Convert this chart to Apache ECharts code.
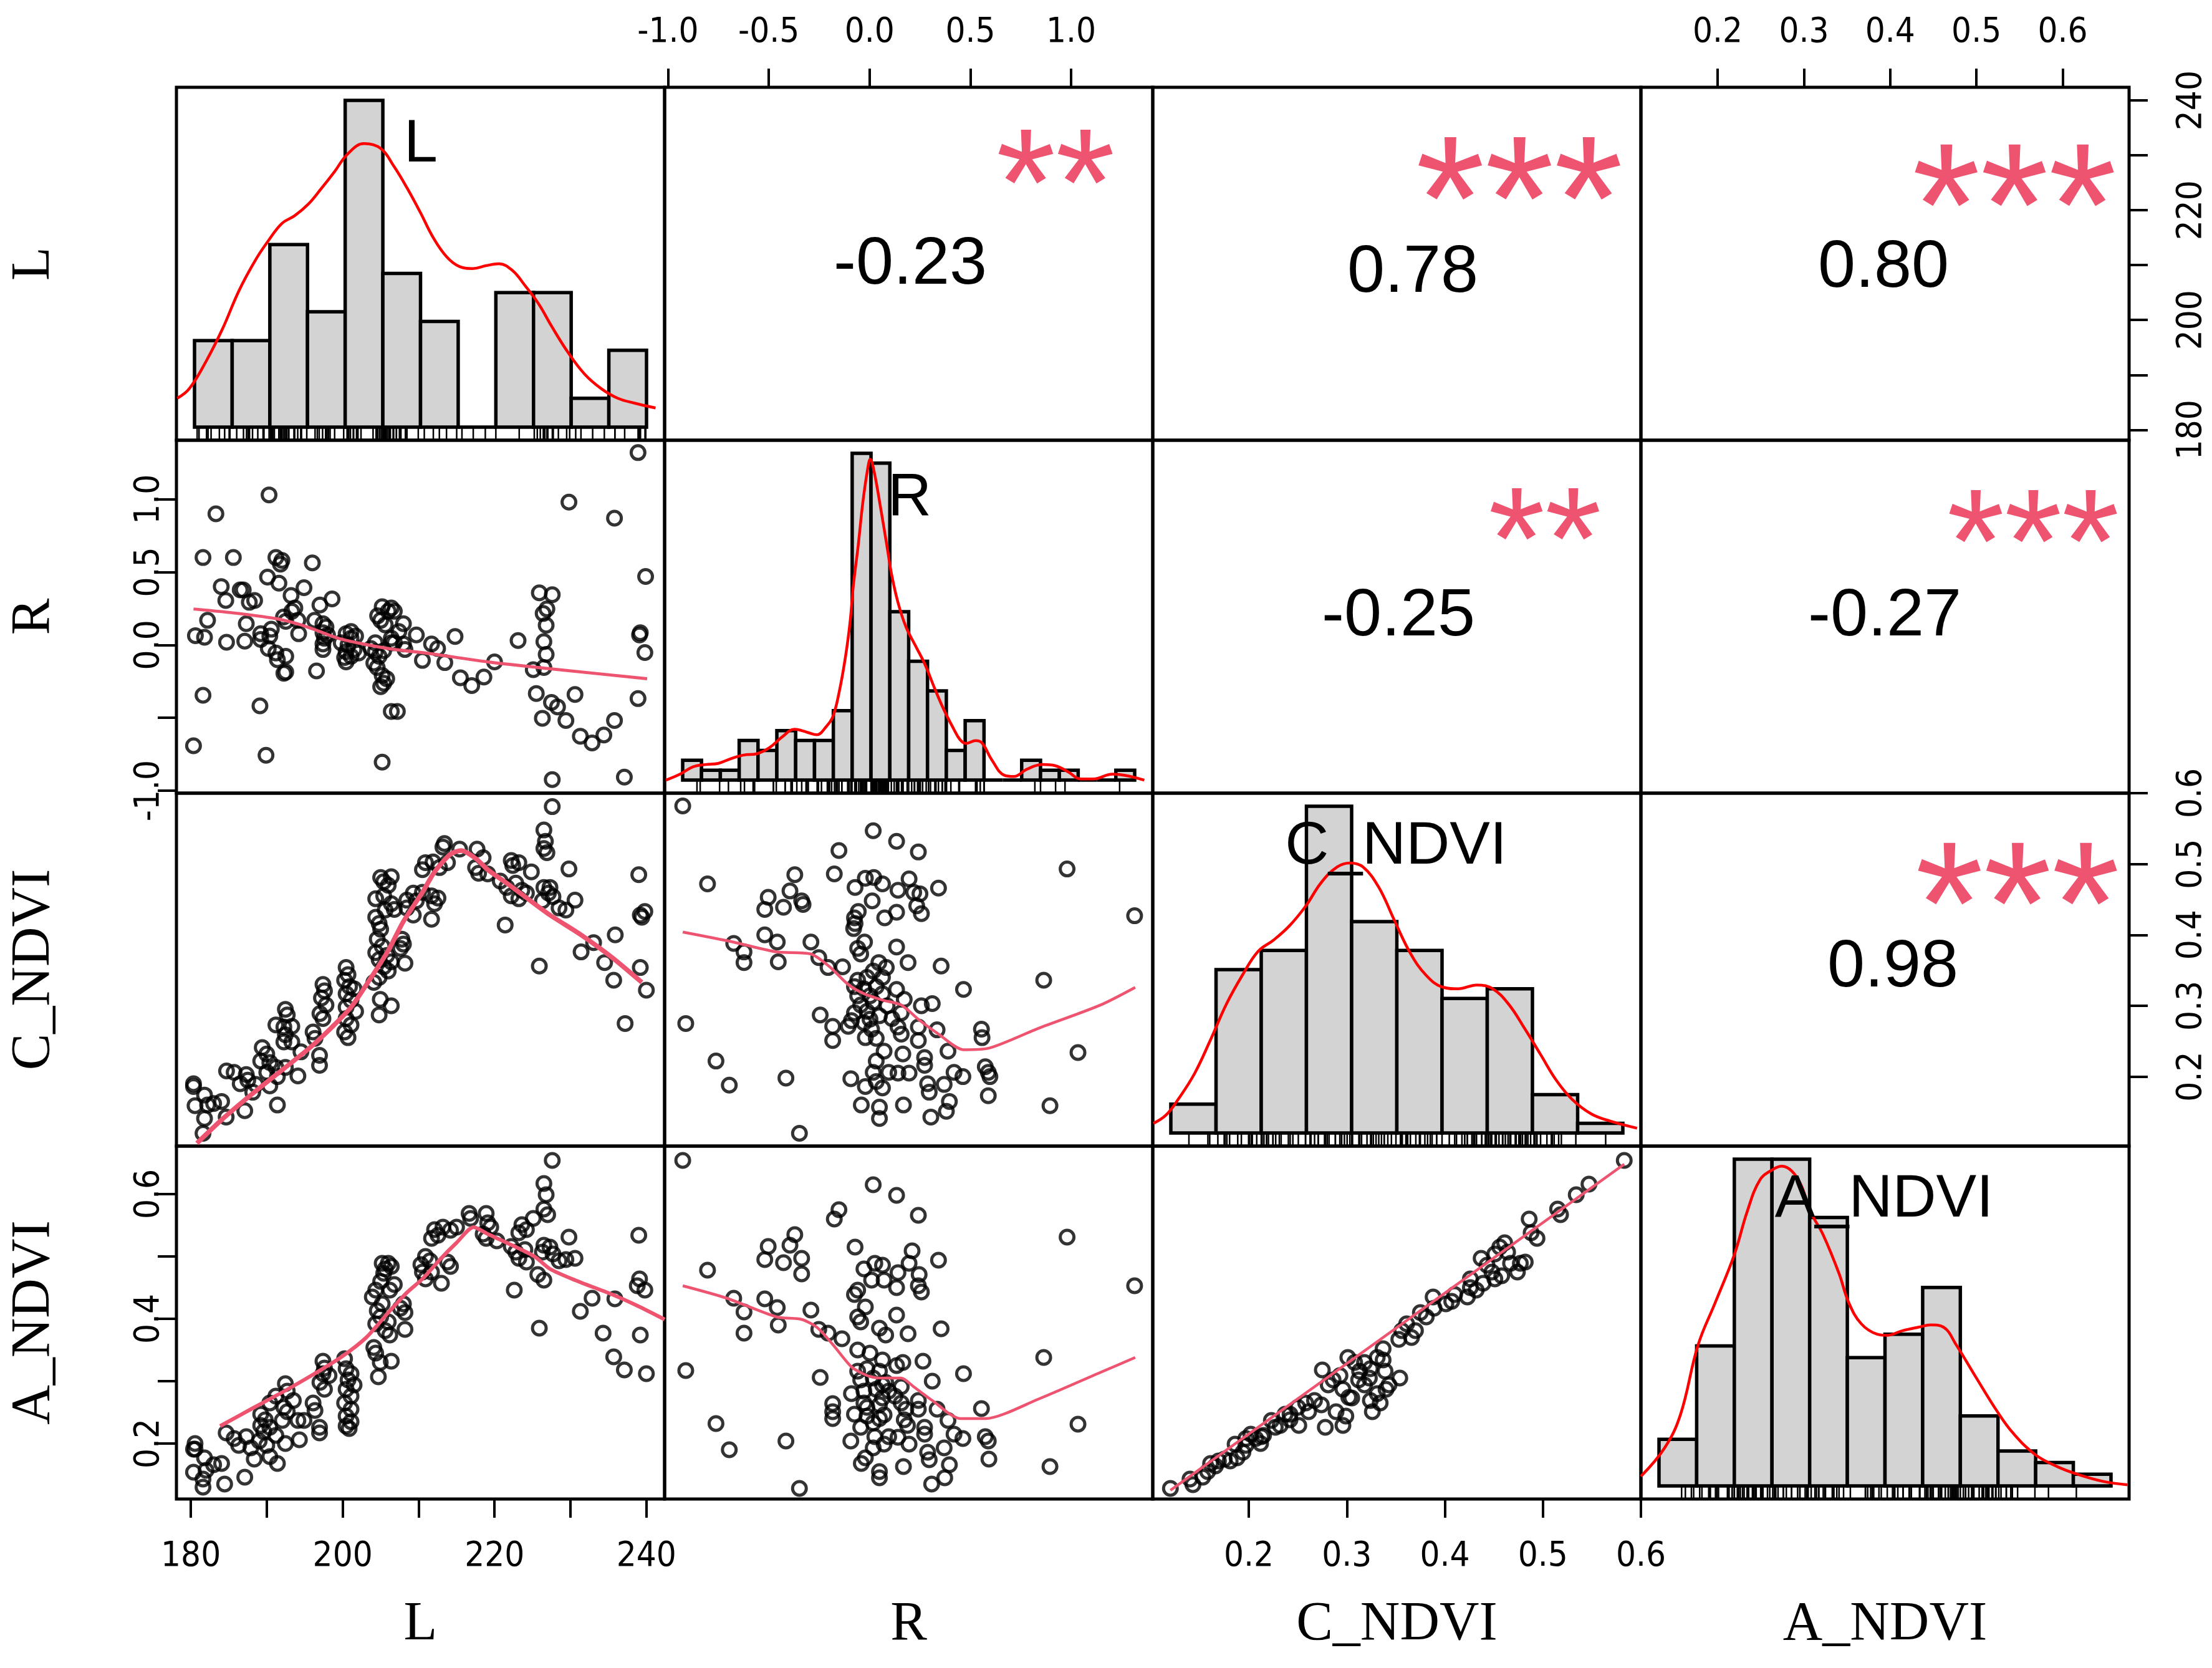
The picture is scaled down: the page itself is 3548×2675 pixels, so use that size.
<!DOCTYPE html>
<html><head><meta charset="utf-8">
<script src="https://cdn.jsdelivr.net/npm/echarts@6/dist/echarts.min.js"></script>
<style>html,body{margin:0;padding:0;background:#fff}#c{width:3548px;height:2675px}</style>
</head><body><div id="c"></div>
<script>
// ---------- DATA ----------
const varNames = ['L', 'R', 'C_NDVI', 'A_NDVI'];
const corrText = ['-0.23', '0.78', '0.80', '-0.25', '-0.27', '0.98'];
const starText = ['**', '***', '***', '**', '***', '***'];
const ticksL = [180, 190, 200, 210, 220, 230, 240];
const labelsL = [180, 200, 220, 240];
const ticksR = [-1, -0.5, 0, 0.5, 1];
const labelsRtop = [-1, -0.5, 0, 0.5, 1];
const labelsRleft = [-1, 0, 0.5, 1];
const ticksNDVI = [0.2, 0.3, 0.4, 0.5, 0.6];
const labelsAleft = [0.2, 0.4, 0.6];

// histogram bins (start, width, counts)
const histLStart = 180, histLWidth = 5;
const histLCounts = [9, 9, 19, 12, 34, 16, 11, 0, 14, 14, 3, 8];
const histRStart = -1.0, histRWidth = 0.1;
const histRCounts = [2, 1, 1, 4, 3, 5, 4, 4, 7, 33, 32, 17, 12, 9, 3, 6, 0, 0, 2, 1, 1, 0, 0, 1];
const histCStart = 0.1, histCWidth = 0.05;
const histCCounts = [3, 17, 19, 34, 22, 19, 14, 15, 4, 1];
const histAStart = 0.1, histAWidth = 0.05;
const histACounts = [4, 12, 28, 28, 23, 11, 13, 17, 6, 3, 2, 1];

// density curves (value, height in count units)
const densL = [[177.7,3.0],[179.3,4.0],[181.5,6.8],[183.7,10.2],[185.9,14.2],[188.1,17.4],[189.8,19.4],[191.6,21.2],[193.3,22.0],[195.1,23.2],[196.8,24.8],[198.6,26.6],[200.3,28.4],[202.5,29.5],[204.7,29.0],[206.5,27.1],[208.2,24.9],[210.0,22.3],[211.7,19.7],[213.5,17.7],[215.2,16.7],[216.9,16.5],[218.7,16.8],[220.4,17.0],[222.2,16.3],[223.9,14.7],[225.7,12.8],[227.4,10.5],[229.6,7.75],[231.8,5.5],[234.0,4.0],[236.2,3.0],[238.4,2.5],[241.2,2.0]];
const densR = [[-1.089,0],[-1.014,0.6],[-0.946,1.33],[-0.878,1.57],[-0.811,1.69],[-0.743,2.17],[-0.676,2.53],[-0.608,2.65],[-0.541,3.25],[-0.473,4.34],[-0.406,5.13],[-0.338,4.82],[-0.288,4.58],[-0.237,5.42],[-0.203,6.39],[-0.170,8.8],[-0.136,12.4],[-0.111,16.0],[-0.094,19.6],[-0.068,23.7],[-0.043,28.1],[-0.018,31.4],[-0.004,32.4],[0.016,31.2],[0.050,27.6],[0.084,23.7],[0.109,20.8],[0.143,17.95],[0.185,15.5],[0.235,13.6],[0.286,11.7],[0.337,9.3],[0.387,7.1],[0.438,5.2],[0.472,4.1],[0.505,3.7],[0.556,3.98],[0.590,3.73],[0.641,2.05],[0.708,0.48],[0.759,0.36],[0.826,1.08],[0.911,1.57],[0.978,1.45],[1.046,0.84],[1.113,0.12],[1.181,0.12],[1.282,0.6],[1.349,0.48],[1.451,0]];
const densC = [[0.0807,1.0],[0.0947,1.87],[0.1088,3.6],[0.1263,6.2],[0.1439,9.7],[0.1614,13.4],[0.179,16.4],[0.1965,18.9],[0.214,20.1],[0.2316,21.6],[0.2491,23.6],[0.2667,26.1],[0.2842,27.7],[0.2982,28.1],[0.3123,27.7],[0.3298,25.6],[0.3474,22.1],[0.365,18.7],[0.3825,16.4],[0.4,15.2],[0.4175,15.0],[0.4386,15.4],[0.4561,15.0],[0.4737,13.4],[0.4912,10.9],[0.5088,8.2],[0.5263,5.5],[0.5439,3.5],[0.5649,2.0],[0.586,1.24],[0.6158,0.5]];
const densA = [[0.076,0.82],[0.1076,3.27],[0.1286,6.13],[0.1518,12.07],[0.1749,15.75],[0.2001,19.84],[0.217,23.5],[0.2338,26.2],[0.2506,27.1],[0.2633,27.4],[0.2759,27.0],[0.2885,25.8],[0.3011,23.5],[0.318,21.5],[0.339,18.2],[0.3516,15.75],[0.3684,13.9],[0.3895,13.0],[0.4021,12.9],[0.4231,13.3],[0.4442,13.6],[0.461,13.8],[0.4778,13.6],[0.4947,12.07],[0.5199,9.4],[0.5494,6.34],[0.5704,4.5],[0.5999,2.66],[0.6293,1.64],[0.6546,1.02],[0.6882,0.41],[0.7219,0.1]];

// scatter panels
const ptsLR = [[238.9,1.32],[190.3,1.03],[183.3,0.90],[229.8,0.98],[235.8,0.87],[181.6,0.60],[185.6,0.60],[191.2,0.60],[192.0,0.58],[191.8,0.555],
[196.0,0.563],[239.9,0.47],[190.1,0.466],[191.6,0.424],[184.0,0.401],[186.5,0.378],[186.9,0.378],[194.9,0.393],[184.6,0.305],[187.7,0.293],
[188.4,0.305],[193.2,0.339],[198.6,0.316],[197.0,0.274],[225.9,0.358],[227.6,0.345],[193.7,0.254],[193.3,0.231],[192.2,0.192],[194.1,0.169],
[192.5,0.162],[182.2,0.169],[187.3,0.146],[196.3,0.169],[197.4,0.146],[197.8,0.123],[197.4,0.084],[197.6,0.046],[197.4,0.007],[197.4,-0.031],
[205.2,0.262],[206.4,0.254],[206.0,0.231],[204.6,0.200],[205.0,0.169],[205.6,0.138],[208.0,0.146],[226.4,0.216],[226.9,0.247],[226.8,0.135],
[190.6,0.108],[189.2,0.077],[190.4,0.061],[180.6,0.064],[181.8,0.053],[184.7,0.019],[187.1,0.026],[189.2,0.038],[194.2,0.077],[200.45,0.077],
[201.1,0.046],[200.7,0.0],[200.45,-0.047],[201.1,-0.078],[200.45,-0.116],[201.7,0.061],[199.8,0.015],[201.5,-0.031],[204.3,0.015],[206.4,0.046],
[206.8,0.015],[208.0,0.007],[208.2,-0.031],[209.7,0.069],[204.3,-0.047],[204.8,-0.078],[204.1,-0.124],[204.55,-0.155],[211.7,0.007],[212.5,-0.024],
[214.8,0.058],[223.1,0.030],[226.5,0.023],[226.8,-0.065],[226.5,-0.155],[225.1,-0.17],[210.5,-0.106],[213.45,-0.121],[220.0,-0.116],[239.2,0.084],
[239.1,0.069],[239.8,-0.052],[190.2,-0.024],[191.2,-0.055],[192.5,-0.078],[191.4,-0.101],[192.5,-0.186],[192.25,-0.194],[196.55,-0.178],[205.2,-0.209],
[205.8,-0.232],[205.4,-0.263],[205.0,-0.286],[215.5,-0.225],[217.0,-0.279],[218.6,-0.22],[181.6,-0.345],[189.1,-0.418],[206.4,-0.456],[207.2,-0.456],
[225.5,-0.333],[227.5,-0.394],[228.3,-0.425],[230.6,-0.340],[226.3,-0.503],[229.4,-0.518],[235.8,-0.518],[238.9,-0.368],[231.3,-0.626],[232.85,-0.672],
[234.4,-0.618],[180.35,-0.692],[189.9,-0.757],[205.2,-0.804],[227.6,-0.924],[237.1,-0.907],[201.1,0.092],[200.25,-0.086],[202.1,-0.055],[203.7,-0.024],
[205.4,-0.039],[198.0,0.069],[206.8,0.231],[207.4,0.092],[206.4,0.015]];
const loessLR = [[180.35,0.247],[186.3,0.216],[191.6,0.177],[194.5,0.138],[196.55,0.10],[199.4,0.046],[202.7,0.007],[206.8,-0.031],[210.9,-0.055],[219.1,-0.116],[227.3,-0.163],[240.1,-0.232]];

const ptsLC = [[227.6,0.581],[226.5,0.548],[226.7,0.532],[226.5,0.522],[226.9,0.516],[213.4,0.529],[213.2,0.524],[215.4,0.521],[217.7,0.521],[218.5,0.509],
[210.9,0.502],[211.9,0.503],[212.75,0.495],[213.8,0.502],[210.5,0.492],[217.5,0.495],[217.9,0.487],[219.1,0.486],[222.2,0.505],[222.4,0.498],
[223.2,0.502],[224.85,0.489],[229.8,0.493],[239.0,0.485],[205.0,0.481],[206.4,0.482],[205.4,0.475],[206.0,0.470],[220.75,0.476],[221.6,0.467],
[222.8,0.473],[223.6,0.463],[222.2,0.455],[223.2,0.451],[224.2,0.459],[226.5,0.467],[227.3,0.467],[227.1,0.459],[227.7,0.454],[226.3,0.448],
[204.35,0.451],[205.4,0.455],[206.4,0.444],[205.6,0.435],[206.8,0.436],[209.3,0.459],[208.45,0.449],[209.7,0.448],[210.5,0.460],[212.55,0.452],
[212.1,0.444],[211.7,0.455],[208.45,0.438],[209.3,0.428],[211.7,0.422],[228.5,0.438],[229.4,0.435],[230.6,0.449],[221.4,0.414],[239.2,0.428],
[239.8,0.433],[239.4,0.425],[204.35,0.425],[204.8,0.416],[205.0,0.408],[207.8,0.394],[208.0,0.387],[207.6,0.381],[204.55,0.394],[205.2,0.384],
[204.35,0.375],[204.8,0.365],[205.8,0.371],[206.4,0.362],[208.2,0.360],[205.4,0.355],[206.0,0.349],[204.8,0.340],[204.1,0.333],[225.9,0.356],
[233.05,0.389],[231.4,0.376],[235.9,0.400],[234.5,0.361],[239.2,0.354],[235.7,0.336],[240.0,0.322],[237.2,0.275],[200.45,0.354],[200.7,0.344],
[200.25,0.336],[200.9,0.327],[200.45,0.317],[201.5,0.324],[201.1,0.308],[200.45,0.298],[201.7,0.292],[200.45,0.282],[201.1,0.273],[200.25,0.263],
[200.7,0.255],[197.4,0.330],[197.6,0.321],[197.2,0.311],[197.8,0.301],[197.0,0.289],[197.4,0.282],[204.95,0.309],[206.4,0.300],[204.8,0.287],
[192.45,0.295],[192.7,0.287],[191.2,0.273],[192.25,0.270],[193.3,0.271],[192.45,0.259],[192.25,0.249],[193.3,0.249],[196.1,0.263],[196.35,0.254],
[196.95,0.230],[196.95,0.216],[194.5,0.235],[189.4,0.241],[190.0,0.232],[189.2,0.222],[190.4,0.220],[191.2,0.213],[192.45,0.213],[190.0,0.206],
[191.4,0.200],[194.1,0.201],[184.7,0.208],[185.7,0.206],[187.3,0.203],[186.5,0.190],[187.5,0.195],[188.55,0.189],[188.15,0.178],[190.4,0.187],
[180.35,0.190],[180.35,0.186],[181.8,0.174],[180.55,0.159],[182.2,0.160],[183.0,0.162],[184.05,0.165],[181.8,0.141],[184.65,0.143],[187.1,0.152],
[191.4,0.160],[181.6,0.120]];
const loessLC = [[180.8,0.106],[184.25,0.141],[188.35,0.178],[192.45,0.213],[195.7,0.241],[198.6,0.270],[201.1,0.298],[203.5,0.336],[206.0,0.378],[208.0,0.419],[210.5,0.460],[212.1,0.489],[214.2,0.514],[215.6,0.519],[217.5,0.508],[219.1,0.492],[221.6,0.473],[224.0,0.454],[227.3,0.428],[231.4,0.400],[235.5,0.368],[239.4,0.333]];

const ptsLA = [[227.6,0.654],[226.5,0.617],[226.8,0.599],[226.5,0.576],[227.0,0.567],[225.1,0.561],[223.6,0.551],[224.2,0.543],[223.2,0.538],[216.65,0.569],
[216.85,0.561],[218.9,0.569],[219.1,0.554],[219.5,0.547],[218.5,0.536],[218.9,0.529],[220.3,0.525],[212.1,0.543],[213.2,0.547],[214.2,0.542],
[215.0,0.547],[211.7,0.529],[212.55,0.534],[229.8,0.531],[239.0,0.534],[222.2,0.516],[222.8,0.507],[224.0,0.511],[223.2,0.497],[224.2,0.491],
[226.5,0.518],[227.3,0.515],[226.3,0.507],[227.7,0.504],[228.5,0.493],[229.4,0.495],[230.6,0.497],[225.7,0.471],[226.5,0.462],[222.6,0.446],
[205.2,0.489],[206.0,0.489],[205.6,0.480],[206.4,0.484],[205.4,0.473],[205.0,0.460],[206.8,0.455],[206.2,0.446],[204.35,0.446],[203.9,0.435],
[205.2,0.424],[204.55,0.413],[205.0,0.403],[204.35,0.392],[206.0,0.395],[205.6,0.381],[206.2,0.374],[208.0,0.424],[208.2,0.410],[207.6,0.417],
[208.2,0.383],[210.9,0.500],[210.3,0.487],[211.5,0.493],[210.5,0.475],[210.9,0.464],[211.7,0.475],[213.8,0.491],[214.2,0.484],[213.0,0.457],
[225.9,0.385],[232.85,0.433],[235.85,0.432],[231.3,0.412],[234.3,0.377],[239.2,0.374],[239.1,0.464],[238.8,0.453],[239.8,0.446],[235.7,0.339],
[237.1,0.318],[240.0,0.312],[204.1,0.354],[204.35,0.345],[204.95,0.330],[206.4,0.332],[204.7,0.307],[200.25,0.336],[197.4,0.332],[197.6,0.321],
[197.4,0.312],[198.2,0.309],[197.0,0.298],[197.6,0.287],[200.45,0.320],[201.1,0.312],[200.7,0.302],[201.5,0.294],[200.45,0.287],[201.1,0.276],
[200.25,0.265],[201.1,0.255],[200.45,0.244],[201.1,0.235],[200.45,0.228],[200.85,0.224],[196.1,0.265],[196.35,0.253],[196.95,0.226],[196.95,0.217],
[192.45,0.296],[192.7,0.284],[191.2,0.276],[193.5,0.269],[192.25,0.258],[192.7,0.251],[194.1,0.237],[194.9,0.237],[192.05,0.237],[190.4,0.265],
[189.2,0.247],[189.8,0.238],[189.2,0.229],[190.4,0.226],[189.6,0.219],[191.2,0.213],[192.45,0.200],[194.3,0.206],[184.65,0.217],[185.7,0.208],
[187.3,0.211],[186.3,0.197],[187.9,0.193],[188.35,0.175],[189.0,0.204],[190.0,0.197],[190.4,0.179],[191.4,0.168],[180.55,0.200],[180.55,0.191],
[181.8,0.177],[183.0,0.166],[184.05,0.168],[180.35,0.154],[182.0,0.157],[181.6,0.143],[181.6,0.130],[184.45,0.135],[187.1,0.146],[180.35,0.191]];
const loessLA = [[183.85,0.228],[188.35,0.258],[192.45,0.285],[196.15,0.311],[199.85,0.339],[203.1,0.370],[206.0,0.410],[208.45,0.442],[210.5,0.464],[212.95,0.497],[215.0,0.522],[217.25,0.547],[219.1,0.536],[221.6,0.522],[225.25,0.500],[227.3,0.480],[230.6,0.462],[235.5,0.439],[238.8,0.421],[242.4,0.399]];

const ptsRC = [[-0.927,0.582],[0.018,0.547],[0.134,0.532],[-0.152,0.519],[0.242,0.517],[0.980,0.493],[-0.371,0.485],[-0.175,0.486],[-0.804,0.472],[-0.021,0.480],
[0.021,0.481],[0.064,0.472],[-0.072,0.467],[0.196,0.479],[0.141,0.463],[0.219,0.460],[0.250,0.458],[0.342,0.466],[-0.395,0.462],[-0.503,0.453],
[-0.337,0.448],[-0.330,0.443],[-0.520,0.436],[-0.427,0.439],[0.013,0.448],[0.234,0.441],[0.257,0.430],[0.134,0.432],[0.075,0.424],[-0.056,0.433],
[-0.075,0.424],[-0.072,0.416],[-0.079,0.409],[1.315,0.427],[-0.520,0.400],[-0.458,0.390],[-0.291,0.390],[-0.674,0.388],[-0.623,0.376],[-0.623,0.361],
[-0.453,0.362],[-0.025,0.390],[-0.059,0.381],[-0.044,0.373],[0.134,0.383],[-0.252,0.368],[-0.206,0.354],[-0.134,0.355],[0.046,0.361],[0.083,0.354],
[0.018,0.349],[0.191,0.361],[0.355,0.356],[0.864,0.336],[-0.059,0.336],[-0.013,0.340],[0.064,0.340],[-0.075,0.327],[-0.028,0.324],[0.033,0.327],
[-0.059,0.314],[0.002,0.314],[0.064,0.317],[0.134,0.323],[0.172,0.309],[-0.044,0.301],[0.018,0.305],[0.087,0.300],[-0.075,0.290],[-0.013,0.292],
[0.049,0.286],[0.466,0.323],[0.257,0.300],[0.311,0.303],[-0.245,0.287],[-0.183,0.271],[-0.106,0.271],[-0.028,0.276],[0.010,0.267],[0.111,0.282],
[0.157,0.290],[0.141,0.270],[0.157,0.260],[-0.021,0.255],[0.033,0.254],[-0.183,0.251],[0.242,0.270],[0.242,0.251],[0.335,0.266],[0.555,0.267],
[0.558,0.255],[-0.912,0.275],[0.072,0.236],[0.165,0.232],[0.273,0.227],[0.389,0.236],[0.033,0.222],[0.273,0.216],[1.034,0.234],[-0.762,0.222],
[0.018,0.206],[0.095,0.206],[0.141,0.205],[0.196,0.205],[-0.093,0.197],[0.419,0.206],[0.463,0.200],[0.574,0.214],[0.589,0.206],[0.597,0.200],
[-0.415,0.198],[-0.696,0.188],[-0.021,0.186],[0.064,0.184],[0.033,0.193],[0.288,0.190],[0.370,0.189],[0.296,0.178],[0.589,0.173],[-0.041,0.160],
[0.049,0.157],[0.168,0.160],[0.396,0.165],[0.381,0.151],[0.304,0.143],[0.049,0.141],[0.895,0.159],[-0.348,0.120],[-0.090,0.279],[0.002,0.281]];
const loessRC = [[-0.927,0.404],[-0.677,0.390],[-0.461,0.376],[-0.291,0.373],[-0.198,0.355],[-0.106,0.330],[-0.028,0.317],[0.064,0.308],[0.157,0.301],[0.250,0.279],[0.342,0.260],[0.466,0.238],[0.589,0.240],[0.836,0.268],[1.145,0.301],[1.318,0.326]];

const ptsRA = [[-0.927,0.654],[0.018,0.615],[0.134,0.598],[-0.152,0.575],[-0.175,0.560],[0.242,0.566],[0.980,0.531],[-0.371,0.535],[-0.503,0.516],[-0.395,0.518],
[-0.337,0.497],[-0.520,0.495],[-0.427,0.490],[-0.337,0.472],[-0.804,0.478],[-0.072,0.515],[0.211,0.509],[0.342,0.494],[-0.028,0.480],[0.026,0.489],
[0.064,0.486],[0.196,0.489],[0.141,0.474],[0.246,0.471],[0.010,0.462],[0.072,0.462],[0.134,0.450],[0.242,0.453],[0.257,0.443],[-0.075,0.439],
[-0.059,0.446],[1.315,0.453],[-0.674,0.433],[-0.520,0.432],[-0.458,0.418],[-0.291,0.414],[-0.623,0.411],[-0.021,0.419],[-0.059,0.403],[-0.044,0.395],
[0.134,0.406],[-0.453,0.390],[-0.623,0.377],[-0.252,0.383],[-0.206,0.377],[-0.137,0.368],[0.049,0.385],[0.080,0.374],[0.191,0.376],[0.355,0.384],
[-0.059,0.350],[0.002,0.345],[0.064,0.334],[0.165,0.330],[0.134,0.325],[0.265,0.332],[0.864,0.338],[-0.912,0.317],[-0.245,0.306],[-0.059,0.316],
[-0.013,0.320],[0.049,0.316],[-0.044,0.302],[0.018,0.305],[0.080,0.298],[0.157,0.291],[0.311,0.300],[0.466,0.312],[-0.090,0.280],[-0.028,0.284],
[0.033,0.287],[0.095,0.284],[0.126,0.276],[-0.183,0.264],[-0.183,0.251],[-0.183,0.240],[-0.075,0.247],[-0.013,0.258],[-0.013,0.244],[0.064,0.273],
[0.157,0.265],[0.180,0.255],[0.242,0.269],[0.242,0.255],[0.335,0.255],[0.555,0.256],[-0.044,0.226],[0.018,0.233],[0.049,0.240],[0.072,0.246],
[0.172,0.238],[0.188,0.229],[0.273,0.226],[0.273,0.215],[0.389,0.237],[1.034,0.231],[-0.762,0.232],[0.026,0.211],[0.095,0.211],[0.141,0.210],
[0.419,0.215],[0.463,0.208],[0.574,0.211],[0.589,0.204],[-0.093,0.204],[-0.415,0.204],[-0.696,0.190],[0.018,0.193],[0.072,0.199],[0.196,0.199],
[0.288,0.186],[0.370,0.193],[0.296,0.174],[0.592,0.175],[-0.021,0.177],[-0.041,0.168],[0.168,0.163],[0.396,0.166],[0.049,0.155],[0.049,0.145],
[0.373,0.145],[0.308,0.135],[0.895,0.163],[-0.348,0.128],[-0.028,0.265],[0.049,0.262],[0.064,0.294]];
const loessRA = [[-0.927,0.453],[-0.708,0.433],[-0.461,0.403],[-0.337,0.399],[-0.260,0.386],[-0.183,0.359],[-0.090,0.323],[-0.013,0.309],[0.049,0.305],[0.157,0.305],[0.219,0.291],[0.311,0.269],[0.450,0.240],[0.574,0.240],[0.836,0.271],[1.145,0.314],[1.318,0.338]];

const ptsCA = [[0.120,0.128],[0.140,0.143],[0.143,0.134],[0.153,0.146],[0.158,0.155],[0.161,0.168],[0.166,0.164],[0.175,0.175],[0.181,0.172],[0.188,0.177],
[0.186,0.199],[0.194,0.186],[0.197,0.208],[0.202,0.215],[0.207,0.208],[0.212,0.200],[0.215,0.213],[0.223,0.237],[0.227,0.226],[0.232,0.229],
[0.237,0.247],[0.242,0.238],[0.250,0.258],[0.251,0.229],[0.258,0.265],[0.261,0.251],[0.267,0.269],[0.274,0.262],[0.275,0.318],[0.278,0.226],
[0.281,0.294],[0.286,0.302],[0.289,0.251],[0.293,0.309],[0.296,0.229],[0.299,0.244],[0.301,0.338],[0.302,0.274],[0.305,0.273],[0.308,0.330],
[0.312,0.302],[0.313,0.316],[0.318,0.294],[0.323,0.305],[0.324,0.320],[0.326,0.251],[0.331,0.338],[0.331,0.280],[0.334,0.265],[0.337,0.352],
[0.339,0.316],[0.340,0.287],[0.343,0.294],[0.354,0.305],[0.337,0.334],[0.353,0.367],[0.356,0.381],[0.361,0.392],[0.366,0.370],[0.370,0.381],
[0.375,0.410],[0.381,0.403],[0.388,0.435],[0.389,0.417],[0.401,0.424],[0.410,0.439],[0.423,0.435],[0.426,0.464],[0.432,0.446],[0.437,0.497],
[0.439,0.457],[0.443,0.486],[0.451,0.464],[0.451,0.504],[0.456,0.515],[0.461,0.522],[0.464,0.507],[0.467,0.489],[0.474,0.475],[0.477,0.489],
[0.482,0.491],[0.458,0.469],[0.486,0.560],[0.488,0.538],[0.494,0.529],[0.515,0.576],[0.518,0.567],[0.534,0.599],[0.547,0.616],[0.583,0.654],
[0.426,0.450],[0.407,0.428],[0.448,0.475],[0.318,0.330],[0.296,0.287],[0.324,0.269],[0.242,0.247],[0.213,0.211],[0.197,0.197],[0.169,0.172]];
const loessCA = [[0.120,0.125],[0.583,0.648]];

// ---------- LAYOUT / STYLE ----------
const FONT = "'Liberation Sans', Arial, sans-serif";
const TICKFONT = "'Liberation Sans Narrow', 'Arial Narrow', 'DejaVu Sans Condensed', 'Liberation Sans', sans-serif";
const SERIF = "'Liberation Serif', 'Times New Roman', serif";
const PINK = '#EE5470';
const PL = 283, PT = 140, PW = 783, PH = 566;

const scatterRange = { L: [178.1, 242.4], R: [-1.017, 1.405], C: [0.102, 0.600], A: [0.111, 0.677] };
function histRange(start, width, counts) {
  const a = start, b = start + width * counts.length, pad = (b - a) * 0.04;
  const m = Math.max(...counts);
  return { x: [a - pad, b + pad], y: [-0.04 * m, 1.04 * m] };
}
const hist = {
  L: { start: histLStart, width: histLWidth, counts: histLCounts, dens: densL },
  R: { start: histRStart, width: histRWidth, counts: histRCounts, dens: densR },
  C: { start: histCStart, width: histCWidth, counts: histCCounts, dens: densC },
  A: { start: histAStart, width: histAWidth, counts: histACounts, dens: densA }
};
const keys = ['L', 'R', 'C', 'A'];
const rugValues = {
  L: ptsLR.map(p => p[0]), R: ptsLR.map(p => p[1]),
  C: ptsLC.map(p => p[1]), A: ptsLA.map(p => p[1])
};

const grids = [], xAxes = [], yAxes = [], series = [];
function baseAxis(g, r) {
  return { type: 'value', gridIndex: g, min: r[0], max: r[1], scale: true,
    axisLine: { show: false }, axisTick: { show: false }, axisLabel: { show: false }, splitLine: { show: false } };
}
for (let r = 0; r < 4; r++) for (let c = 0; c < 4; c++) {
  const g = r * 4 + c;
  grids.push({ left: PL + c * PW, top: PT + r * PH, width: PW, height: PH, show: true,
    borderColor: '#000', borderWidth: 5, backgroundColor: 'rgba(0,0,0,0)' });
  let xr, yr;
  if (r === c) { const h = hist[keys[c]]; const hr = histRange(h.start, h.width, h.counts); xr = hr.x; yr = hr.y; }
  else { xr = scatterRange[keys[c]]; yr = scatterRange[keys[r]]; }
  xAxes.push(baseAxis(g, xr));
  yAxes.push(baseAxis(g, yr));
}
function showAxis(ax, pos, ticks, labels, dec, rotate, margin) {
  ax.position = pos;
  ax.axisTick = { show: true, inside: false, length: 30, lineStyle: { color: '#000', width: 4 }, customValues: ticks };
  ax.axisLabel = { show: true, inside: false, customValues: labels, margin: margin, rotate: rotate,
    fontSize: 56, fontFamily: TICKFONT, color: '#000', formatter: v => Number(v).toFixed(dec) };
}
showAxis(xAxes[12], 'bottom', ticksL, labelsL, 0, 0, 64);
showAxis(xAxes[14], 'bottom', ticksNDVI, ticksNDVI, 1, 0, 64);
showAxis(xAxes[1], 'top', ticksR, labelsRtop, 1, 0, 60);
showAxis(xAxes[3], 'top', ticksNDVI, ticksNDVI, 1, 0, 60);
showAxis(yAxes[4], 'left', ticksR, labelsRleft, 1, 90, 16);
showAxis(yAxes[12], 'left', ticksNDVI, labelsAleft, 1, 90, 16);
showAxis(yAxes[3], 'right', ticksL, labelsL, 0, 90, 72);
showAxis(yAxes[11], 'right', ticksNDVI, ticksNDVI, 1, 90, 72);

// diagonal histograms
keys.forEach((k, i) => {
  const g = i * 5, h = hist[k];
  const hr = histRange(h.start, h.width, h.counts);
  const bins = h.counts.map((cnt, j) => [h.start + j * h.width, h.start + (j + 1) * h.width, cnt]);
  series.push({ type: 'custom', xAxisIndex: g, yAxisIndex: g, data: bins, silent: true, z: 2,
    renderItem: (p, api) => {
      const a = api.coord([api.value(0), 0]), b = api.coord([api.value(1), api.value(2)]);
      return { type: 'rect', shape: { x: a[0], y: b[1], width: b[0] - a[0], height: a[1] - b[1] },
        style: { fill: '#D3D3D3', stroke: '#000', lineWidth: 5.5 } };
    } });
  series.push({ type: 'line', xAxisIndex: g, yAxisIndex: g, data: h.dens, showSymbol: false, smooth: 0.4,
    silent: true, z: 3, clip: true, lineStyle: { color: '#FF0000', width: 4.5 } });
  const y0 = hr.y[0], y1 = hr.y[0] + (hr.y[1] - hr.y[0]) * 0.034;
  series.push({ type: 'custom', xAxisIndex: g, yAxisIndex: g, data: rugValues[k].map(v => [v, y0]), silent: true, z: 3,
    renderItem: (p, api) => {
      const a = api.coord([api.value(0), y0]), b = api.coord([api.value(0), y1]);
      return { type: 'line', shape: { x1: a[0], y1: a[1], x2: b[0], y2: b[1] }, style: { stroke: '#000', lineWidth: 2.5 } };
    } });
});

// scatter panels
function addScatter(g, pts, loess, lw) {
  series.push({ type: 'scatter', xAxisIndex: g, yAxisIndex: g, data: pts, symbol: 'circle', symbolSize: 22, silent: true, z: 2,
    itemStyle: { color: 'rgba(0,0,0,0)', borderColor: '#000', borderWidth: 5 } });
  series.push({ type: 'line', xAxisIndex: g, yAxisIndex: g, data: loess, showSymbol: false, smooth: 0.25, silent: true, z: 3,
    clip: true, lineStyle: { color: PINK, width: lw } });
}
addScatter(4, ptsLR, loessLR, 5);
addScatter(8, ptsLC, loessLC, 7.5);
addScatter(9, ptsRC, loessRC, 4.5);
addScatter(12, ptsLA, loessLA, 6);
addScatter(13, ptsRA, loessRA, 4.5);
addScatter(14, ptsCA, loessCA, 4.5);

// texts
const graphics = [];
function txt(x, y, text, size, color, family, rotation) {
  const el = { type: 'text', x: x, y: y, z: 100, silent: true,
    style: { text: text, fontSize: size, fontFamily: family || FONT, fill: color || '#000',
      textAlign: 'center', textVerticalAlign: 'middle', align: 'center', verticalAlign: 'middle' } };
  if (rotation) el.rotation = rotation;
  graphics.push(el);
}
// correlation values
const corrPos = [[1460, 425], [2266, 438], [3021, 430], [2243, 989], [3023, 989], [3036, 1552]];
corrText.forEach((t, i) => txt(corrPos[i][0], corrPos[i][1], t, 108));
// significance stars
const starPos = [[1693, 253, 245], [2437, 272, 285], [3231, 283, 281], [2478, 826, 233], [3261, 830, 237], [3236, 1403, 281]];
starText.forEach((t, i) => txt(starPos[i][0], starPos[i][1] + 0.23 * starPos[i][2], t, starPos[i][2], PINK));
// diagonal names
const diagPos = [[675, 232], [1459, 800], [2239, 1358], [3022, 1924]];
varNames.forEach((n, i) => txt(diagPos[i][0], diagPos[i][1], n, 97));
// outer names
varNames.forEach((n, i) => {
  txt(PL + i * PW + PW / 2, 2606, n, 88, '#000', SERIF);
  txt(55, PT + i * PH + PH / 2, n, 88, '#000', SERIF, Math.PI / 2);
});

const chart = echarts.init(document.getElementById('c'), null, { renderer: 'canvas' });
chart.setOption({
  animation: false, backgroundColor: '#fff',
  textStyle: { fontFamily: FONT },
  grid: grids, xAxis: xAxes, yAxis: yAxes, series: series, graphic: graphics
});
</script>
</body></html>
